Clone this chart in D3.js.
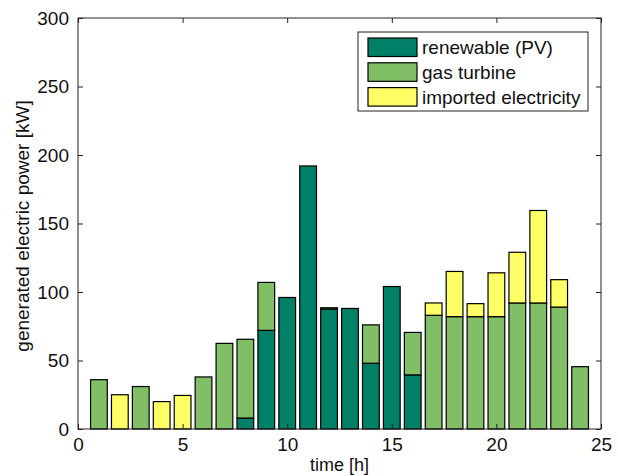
<!DOCTYPE html>
<html>
<head>
<meta charset="utf-8">
<script src="https://cdn.jsdelivr.net/npm/d3@7"></script>
<style>
  body { margin: 0; background: #fff; }
  svg { display: block; font-family: "Liberation Sans", Arial, sans-serif; }
</style>
</head>
<body>
<div id="chart"></div>
<script>
//Datos (kW por hora)
const hours = d3.range(1, 25);
const pv = [0, 0, 0, 0, 0, 0, 0, 8, 72, 96, 192, 87.5, 88, 48, 104, 39.5, 0, 0, 0, 0, 0, 0, 0, 0];
const gas = [36, 0, 31, 0, 0, 38, 62.5, 57.5, 35, 0, 0, 1, 0, 28, 0, 31, 83, 82, 82, 82, 92, 92, 89, 45.5];
const imported = [0, 25, 0, 20, 24.5, 0, 0, 0, 0, 0, 0, 0, 0, 0, 0, 0, 9, 33, 9.5, 32, 37, 67.5, 20, 0];

const seriesNames = ['renewable (PV)', 'gas turbine', 'imported electricity'];
const seriesKeys = ['pv', 'gas', 'imported'];
const xTicks = [0, 5, 10, 15, 20, 25];
const yTicks = [0, 50, 100, 150, 200, 250, 300];

//Colores (colormap summer)
const COLORS = ['#008066', '#80BF66', '#FFFF66'];

const W = 618, H = 476;
const margin = {top: 18, right: 17, bottom: 47, left: 78};
const width = W - margin.left - margin.right,
      height = H - margin.top - margin.bottom;

const rows = hours.map(function(h, i) {
    return {hour: h, pv: pv[i], gas: gas[i], imported: imported[i]};
});

const svg = d3.select('#chart')
    .append('svg')
        .attr('width', W)
        .attr('height', H);

const g = svg.append('g')
    .attr('transform', 'translate(' + margin.left + ',' + margin.top + ')');

const x = d3.scaleLinear().domain([0, 25]).range([0, width]);
const y = d3.scaleLinear().domain([0, 300]).range([height, 0]);

const barW = x(0.8) - x(0);

const stacked = d3.stack().keys(seriesKeys)(rows);

//Barras apiladas
g.append('g')
    .selectAll('g')
    .data(stacked)
    .enter()
    .append('g')
        .attr('fill', function(d, i) { return COLORS[i]; })
    .selectAll('rect')
    .data(function(d) { return d; })
    .enter()
    .append('rect')
        .attr('x', function(d) { return x(d.data.hour) - barW / 2; })
        .attr('y', function(d) { return y(d[1]); })
        .attr('width', barW)
        .attr('height', function(d) { return y(d[0]) - y(d[1]); })
        .attr('stroke', '#000')
        .attr('stroke-width', 1.2);

//Ejes (caja cerrada con ticks hacia dentro, estilo MATLAB)
const axisColor = '#222';
const tickLen = 5;

g.append('g')
    .attr('transform', 'translate(0,' + height + ')')
    .call(d3.axisBottom(x).tickValues(xTicks).tickSizeInner(-tickLen).tickSizeOuter(0).tickPadding(9))
    .call(function(s) { s.select('.domain').remove(); });

g.append('g')
    .call(d3.axisTop(x).tickValues(xTicks).tickSizeInner(-tickLen).tickSizeOuter(0).tickFormat(''))
    .call(function(s) { s.select('.domain').remove(); });

g.append('g')
    .call(d3.axisLeft(y).tickValues(yTicks).tickSizeInner(-tickLen).tickSizeOuter(0).tickPadding(9))
    .call(function(s) { s.select('.domain').remove(); });

g.append('g')
    .attr('transform', 'translate(' + width + ',0)')
    .call(d3.axisRight(y).tickValues(yTicks).tickSizeInner(-tickLen).tickSizeOuter(0).tickFormat(''))
    .call(function(s) { s.select('.domain').remove(); });

g.selectAll('.tick line').attr('stroke', axisColor);
g.selectAll('.tick text')
    .attr('fill', '#111')
    .style('font-size', '19px');

g.append('rect')
    .attr('width', width)
    .attr('height', height)
    .attr('fill', 'none')
    .attr('stroke', axisColor)
    .attr('stroke-width', 1);

//Títulos de ejes
svg.append('text')
    .attr('x', margin.left + width / 2)
    .attr('y', 471)
    .attr('text-anchor', 'middle')
    .style('font-size', '18px')
    .attr('fill', '#111')
    .text('time [h]');

svg.append('text')
    .attr('transform', 'translate(29,226) rotate(-90)')
    .attr('text-anchor', 'middle')
    .style('font-size', '19px')
    .attr('fill', '#111')
    .text('generated electric power [kW]');

//Leyenda
const legend = svg.append('g')
    .attr('transform', 'translate(358,32)');

legend.append('rect')
    .attr('width', 230)
    .attr('height', 79)
    .attr('fill', '#fff')
    .attr('stroke', '#222')
    .attr('stroke-width', 1);

const item = legend.selectAll('.item')
    .data(seriesNames)
    .enter()
    .append('g')
        .attr('class', 'item')
        .attr('transform', function(d, i) { return 'translate(10,' + (6 + i * 24.8) + ')'; });

item.append('rect')
    .attr('width', 49)
    .attr('height', 18.5)
    .attr('fill', function(d, i) { return COLORS[i]; })
    .attr('stroke', '#000')
    .attr('stroke-width', 1.2);

item.append('text')
    .attr('x', 54)
    .attr('y', 16)
    .style('font-size', '19px')
    .attr('fill', '#111')
    .text(function(d) { return d; });
</script>
</body>
</html>
